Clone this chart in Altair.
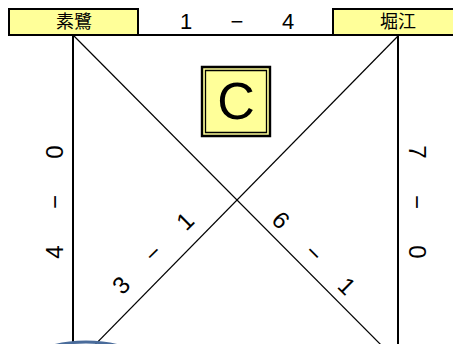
import altair as alt
import pandas as pd

# ---- data -------------------------------------------------------------
team_names = ["素鷺", "堀江"]
group_label = "C"
score_top = ["1", "−", "4"]      # 素鷺 vs 堀江
score_left = ["4", "−", "0"]     # 素鷺 vs bottom-left team
score_right = ["7", "−", "0"]    # 堀江 vs bottom-right team
score_diag_a = ["3", "−", "1"]   # bottom-left vs 堀江
score_diag_b = ["6", "−", "1"]   # 素鷺 vs bottom-right

# ---- layout (page pixel space) ---------------------------------------
W, H = 445, 336
X0, Y0 = 8, 8
LX, RX = 73, 398          # vertical side lines
TOP = 35                  # top horizontal line

xs = alt.Scale(domain=[X0, X0 + W], nice=False, zero=False)
ys = alt.Scale(domain=[Y0, Y0 + H], nice=False, zero=False, reverse=True)
YELLOW = "#ffff99"

boxes = pd.DataFrame({
    "x": [9, 333], "x2": [138, 470], "y": [9, 9], "y2": [TOP, TOP],
})
c_outer = pd.DataFrame({"x": [202], "x2": [270], "y": [67], "y2": [136]})
c_inner = pd.DataFrame({"x": [205.5], "x2": [266.5], "y": [70.5], "y2": [132.5]})

thick = pd.DataFrame({
    "x": [138, LX, RX], "x2": [333, LX, RX],
    "y": [TOP, TOP, TOP], "y2": [TOP, 360, 360],
})
thin = pd.DataFrame({
    "x": [74, 398], "x2": [396, 80], "y": [36, 36], "y2": [360, 360],
})

def spread(chars, cx, cy, dx, dy, angle, size):
    rows = []
    for i, ch in enumerate(chars):
        k = i - 1
        rows.append({"x": cx + k * dx, "y": cy + k * dy, "t": ch,
                     "angle": angle, "size": size})
    return rows

txt = []
txt += spread(score_top, 237, 22, 51, 0, 0, 22)
txt += spread(score_left, 56, 202, 0, -50, 270, 24)
txt += spread(score_right, 416, 202, 0, 50, 90, 24)
txt += spread(score_diag_a, 154, 254, 32, -32, 315, 24)
txt += spread(score_diag_b, 313, 254, 33, 33, 45, 24)
num_df = pd.DataFrame(txt)

names_df = pd.DataFrame({"x": [74, 398], "y": [22.5, 22.5], "t": team_names})
label_df = pd.DataFrame({"x": [236], "y": [103], "t": [group_label]})
ell_df = pd.DataFrame({"x": [86], "y": [357]})

def base(df):
    return alt.Chart(df)

rects = base(boxes).mark_rect(fill=YELLOW, stroke="black", strokeWidth=2).encode(
    x=alt.X("x:Q", scale=xs, axis=None), x2="x2:Q",
    y=alt.Y("y:Q", scale=ys, axis=None), y2="y2:Q")
outer = base(c_outer).mark_rect(fill=YELLOW, stroke="black", strokeWidth=2.4).encode(
    x=alt.X("x:Q", scale=xs, axis=None), x2="x2:Q",
    y=alt.Y("y:Q", scale=ys, axis=None), y2="y2:Q")
inner = base(c_inner).mark_rect(fill=YELLOW, stroke="black", strokeWidth=1.3).encode(
    x=alt.X("x:Q", scale=xs, axis=None), x2="x2:Q",
    y=alt.Y("y:Q", scale=ys, axis=None), y2="y2:Q")
rules_thick = base(thick).mark_rule(color="black", strokeWidth=2).encode(
    x=alt.X("x:Q", scale=xs, axis=None), x2="x2:Q",
    y=alt.Y("y:Q", scale=ys, axis=None), y2="y2:Q")
rules_thin = base(thin).mark_rule(color="black", strokeWidth=1.2).encode(
    x=alt.X("x:Q", scale=xs, axis=None), x2="x2:Q",
    y=alt.Y("y:Q", scale=ys, axis=None), y2="y2:Q")
nums = base(num_df).mark_text(font="Liberation Sans", color="black",
                              align="center", baseline="middle").encode(
    x=alt.X("x:Q", scale=xs, axis=None),
    y=alt.Y("y:Q", scale=ys, axis=None),
    text="t:N",
    angle=alt.Angle("angle:Q", scale=None),
    size=alt.Size("size:Q", scale=None, legend=None))
names = base(names_df).mark_text(font="Noto Sans CJK JP", fontSize=18, color="black",
                                 align="center", baseline="middle").encode(
    x=alt.X("x:Q", scale=xs, axis=None),
    y=alt.Y("y:Q", scale=ys, axis=None), text="t:N")
label = base(label_df).mark_text(font="Liberation Sans", fontSize=52, color="black",
                                 align="center", baseline="middle").encode(
    x=alt.X("x:Q", scale=xs, axis=None),
    y=alt.Y("y:Q", scale=ys, axis=None), text="t:N")
ellipse = base(ell_df).mark_point(
    shape="M -1 0 A 1 0.3125 0 1 1 1 0 A 1 0.3125 0 1 1 -1 0 Z",
    size=9216, filled=False, stroke="#4a6c9b", strokeWidth=3, opacity=1).encode(
    x=alt.X("x:Q", scale=xs, axis=None),
    y=alt.Y("y:Q", scale=ys, axis=None))

chart = alt.layer(rules_thin, rules_thick, rects, outer, inner, names, label, nums, ellipse).properties(
    width=W, height=H, padding=0, autosize=alt.AutoSizeParams(type="none")
).configure_view(stroke=None)

chart.save("out.html", embed_options={"renderer": "svg", "actions": False})
